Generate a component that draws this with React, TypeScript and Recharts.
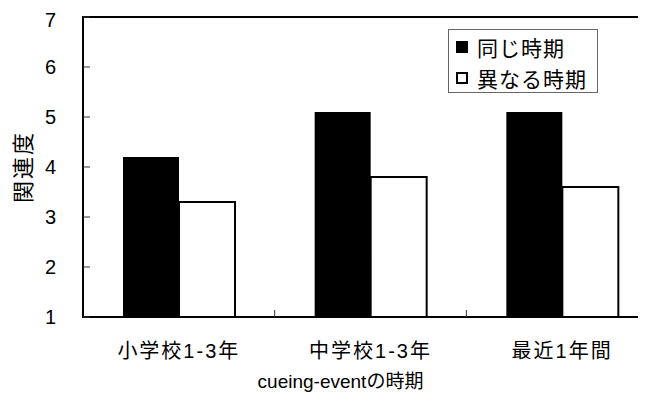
import React from 'react';
import { BarChart, Bar, XAxis, YAxis, Legend, ReferenceArea, Label } from 'recharts';

const categories = ['小学校1-3年', '中学校1-3年', '最近1年間'];
const sameValues = [4.2, 5.1, 5.1];
const diffValues = [3.3, 3.8, 3.6];
const yTicks = [1, 2, 3, 4, 5, 6, 7];
const seriesNames = ['同じ時期', '異なる時期'];

const data = categories.map((c, i) => ({ cat: c, same: sameValues[i], diff: diffValues[i] }));

const FONT = "'Liberation Sans', 'Noto Sans CJK JP', sans-serif";
const X_MARGIN = 27;

const XTick = (props: any) => {
  const { x, y, payload, index } = props;
  const off = payload && typeof payload.offset === 'number' ? payload.offset : 95.8;
  const left = x - off;
  const axisY = y - X_MARGIN;
  return (
    <g>
      {index > 0 && (
        <line x1={left} x2={left} y1={axisY} y2={axisY - 7} stroke="#333" strokeWidth={1} />
      )}
      <text x={x} y={y} dy="0.71em" textAnchor="middle" fontFamily={FONT} fontSize={20} letterSpacing={2} fill="#000">
        {payload.value}
      </text>
    </g>
  );
};

const LegendBox = () => (
  <div
    style={{
      border: '1px solid #666',
      width: 148,
      height: 62,
      background: '#fff',
      fontFamily: FONT,
      fontSize: 21,
      boxSizing: 'content-box',
      position: 'relative',
    }}
  >
    {seriesNames.map((n, i) => (
      <div
        key={n}
        style={{ position: 'absolute', left: 7, top: i === 0 ? 3 : 34, height: 28, display: 'flex', alignItems: 'center', whiteSpace: 'nowrap' }}
      >
        <span
          style={{
            display: 'inline-block',
            width: i === 0 ? 12 : 8,
            height: i === 0 ? 12 : 8,
            background: i === 0 ? '#000' : '#fff',
            border: i === 0 ? 'none' : '2px solid #000',
            marginRight: 9,
          }}
        />
        <span style={{ letterSpacing: 1, color: '#000' }}>{n}</span>
      </div>
    ))}
  </div>
);

export default function App() {
  return (
    <div style={{ width: 638, height: 388, overflow: 'hidden' }}>
      <BarChart width={660} height={388} data={data} margin={{ top: 9, right: 10, bottom: 0, left: 0 }} barGap={0} barSize={56}>
        <ReferenceArea y1={1} y2={7} fill="none" stroke="#000" strokeWidth={2} ifOverflow="visible" />
        <XAxis
          dataKey="cat"
          height={79}
          axisLine={{ stroke: '#000', strokeWidth: 2 }}
          tickLine={false}
          tickSize={0}
          tickMargin={X_MARGIN}
          tick={<XTick />}
          interval={0}
        >
          <Label
            value="cueing-eventの時期"
            position="insideBottom"
            offset={8}
            dx={-30}
            style={{ fontFamily: FONT, fontSize: 19, fill: '#000' }}
          />
        </XAxis>
        <YAxis
          domain={[1, 7]}
          ticks={yTicks}
          width={75}
          axisLine={{ stroke: '#000', strokeWidth: 2 }}
          tickLine={{ stroke: '#333', strokeWidth: 1 }}
          tickSize={-7}
          tickMargin={34}
          tick={{ fontFamily: FONT, fontSize: 20, fill: '#000' }}
          allowDataOverflow
        >
          <Label
            value="関連度"
            position="center"
            angle={-90}
            dx={-22}
            style={{ fontFamily: FONT, fontSize: 22, letterSpacing: 2, fill: '#000' }}
          />
        </YAxis>
        <Bar dataKey="same" name={seriesNames[0]} fill="#000" isAnimationActive={false} />
        <Bar dataKey="diff" name={seriesNames[1]} fill="#fff" stroke="#000" strokeWidth={2} isAnimationActive={false} />
        <Legend
          layout="vertical"
          align="center"
          verticalAlign="middle"
          content={<LegendBox />}
          wrapperStyle={{ top: 21, left: 440, width: 150, height: 64 }}
        />
      </BarChart>
    </div>
  );
}
